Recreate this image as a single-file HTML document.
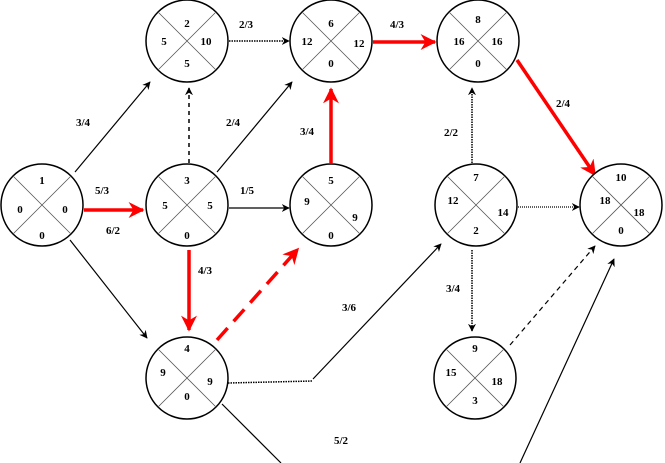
<!DOCTYPE html>
<html><head><meta charset="utf-8"><style>
html,body{margin:0;padding:0;background:#fff;width:665px;height:463px;overflow:hidden}
svg text{font-family:"Liberation Serif",serif;font-size:11px;font-weight:bold;fill:#000;text-anchor:middle}
</style></head><body>
<svg width="665" height="463" viewBox="0 0 665 463" xmlns="http://www.w3.org/2000/svg">
<defs>
<marker id="a" viewBox="0 0 10 10" refX="9" refY="5" markerWidth="8" markerHeight="8" orient="auto" markerUnits="userSpaceOnUse"><path d="M0,0 L10,5 L0,10 L3,5 z" fill="#000"/></marker>
<marker id="r" viewBox="0 0 10 10" refX="9" refY="5" markerWidth="16" markerHeight="16" orient="auto" markerUnits="userSpaceOnUse"><path d="M0,0 L10,5 L0,10 L3,5 z" fill="#f00"/></marker>
</defs>
<g stroke="#000" stroke-width="1.2" fill="none">
<line x1="75" y1="172" x2="150" y2="82" marker-end="url(#a)"/>
<line x1="70" y1="240" x2="147" y2="338" marker-end="url(#a)"/>
<line x1="189" y1="163" x2="189" y2="88" stroke-dasharray="4,4" stroke-width="1.5" marker-end="url(#a)"/>
<line x1="229" y1="41" x2="289" y2="41" stroke-dasharray="1.5,1" stroke-width="1.5" marker-end="url(#a)"/>
<line x1="217" y1="172" x2="292" y2="82" marker-end="url(#a)"/>
<line x1="229" y1="208" x2="289" y2="208" marker-end="url(#a)"/>
<line x1="472" y1="163" x2="472" y2="88" stroke-dasharray="1.5,1" stroke-width="1.5" marker-end="url(#a)"/>
<line x1="518" y1="207" x2="579" y2="207" stroke-dasharray="1,1" marker-end="url(#a)"/>
<line x1="472" y1="250" x2="472" y2="331" stroke-dasharray="1.5,1" stroke-width="1.5" marker-end="url(#a)"/>
<polyline points="228,383 313,381" stroke-dasharray="1.5,1" stroke-width="1.5"/>
<line x1="313" y1="379" x2="441" y2="244" marker-end="url(#a)"/>
<line x1="222" y1="404" x2="281" y2="463"/>
<line x1="520" y1="463" x2="614" y2="259" marker-end="url(#a)"/>
<line x1="510" y1="345" x2="595" y2="246" stroke-dasharray="5,4" marker-end="url(#a)"/>
</g>
<g stroke="#f00" stroke-width="3.5" fill="none">
<line x1="84" y1="210" x2="143" y2="210" marker-end="url(#r)"/>
<line x1="331" y1="163" x2="331" y2="89" marker-end="url(#r)"/>
<line x1="373" y1="42" x2="435" y2="42" marker-end="url(#r)"/>
<line x1="517" y1="60" x2="595" y2="175" marker-end="url(#r)"/>
<line x1="189" y1="250" x2="189" y2="330" marker-end="url(#r)"/>
<line x1="217" y1="340" x2="298" y2="249" stroke-dasharray="16,9" marker-end="url(#r)"/>
</g>
<g font-size="11">
<text x="83" y="126">3/4</text><text x="102" y="194">5/3</text><text x="113" y="234">6/2</text>
<text x="246" y="28">2/3</text><text x="233" y="126">2/4</text><text x="247" y="194">1/5</text>
<text x="307" y="135">3/4</text><text x="397" y="28">4/3</text><text x="563" y="107">2/4</text>
<text x="451" y="136">2/2</text><text x="205" y="274">4/3</text><text x="349" y="311">3/6</text>
<text x="453" y="292">3/4</text><text x="341" y="444">5/2</text>
</g>
<g id="nodes">
<!-- node helper: circle + X + 4 texts -->
<g transform="translate(42,205)"><circle r="41" fill="#fff" stroke="#000" stroke-width="1.5"/><path d="M-29,-29L29,29M29,-29L-29,29" stroke="#555" stroke-width="0.8"/><text y="-21">1</text><text x="-22" y="8">0</text><text x="23" y="8">0</text><text y="34">0</text></g>
<g transform="translate(187,41)"><circle r="41" fill="#fff" stroke="#000" stroke-width="1.5"/><path d="M-29,-29L29,29M29,-29L-29,29" stroke="#555" stroke-width="0.8"/><text y="-14">2</text><text x="-23" y="4">5</text><text x="19" y="4">10</text><text y="26">5</text></g>
<g transform="translate(187,205)"><circle r="41" fill="#fff" stroke="#000" stroke-width="1.5"/><path d="M-29,-29L29,29M29,-29L-29,29" stroke="#555" stroke-width="0.8"/><text y="-21">3</text><text x="-22" y="4">5</text><text x="23" y="4">5</text><text y="34">0</text></g>
<g transform="translate(331,41)"><circle r="41" fill="#fff" stroke="#000" stroke-width="1.5"/><path d="M-29,-29L29,29M29,-29L-29,29" stroke="#555" stroke-width="0.8"/><text y="-14">6</text><text x="-24" y="4">12</text><text x="28" y="6">12</text><text y="26">0</text></g>
<g transform="translate(331,205)"><circle r="41" fill="#fff" stroke="#000" stroke-width="1.5"/><path d="M-29,-29L29,29M29,-29L-29,29" stroke="#555" stroke-width="0.8"/><text y="-21">5</text><text x="-24" y="0">9</text><text x="24" y="16">9</text><text y="34">0</text></g>
<g transform="translate(478,41)"><circle r="41" fill="#fff" stroke="#000" stroke-width="1.5"/><path d="M-29,-29L29,29M29,-29L-29,29" stroke="#555" stroke-width="0.8"/><text y="-18">8</text><text x="-19" y="4">16</text><text x="19" y="4">16</text><text y="26">0</text></g>
<g transform="translate(476,205)"><circle r="41" fill="#fff" stroke="#000" stroke-width="1.5"/><path d="M-29,-29L29,29M29,-29L-29,29" stroke="#555" stroke-width="0.8"/><text y="-24">7</text><text x="-23" y="-1">12</text><text x="27" y="11">14</text><text y="29">2</text></g>
<g transform="translate(621,205)"><circle r="41" fill="#fff" stroke="#000" stroke-width="1.5"/><path d="M-29,-29L29,29M29,-29L-29,29" stroke="#555" stroke-width="0.8"/><text y="-24">10</text><text x="-16" y="-1">18</text><text x="18" y="11">18</text><text y="29">0</text></g>
<g transform="translate(187,378)"><circle r="41" fill="#fff" stroke="#000" stroke-width="1.5"/><path d="M-29,-29L29,29M29,-29L-29,29" stroke="#555" stroke-width="0.8"/><text y="-26">4</text><text x="-24" y="-2">9</text><text x="23" y="7">9</text><text y="22">0</text></g>
<g transform="translate(475,378)"><circle r="41" fill="#fff" stroke="#000" stroke-width="1.5"/><path d="M-29,-29L29,29M29,-29L-29,29" stroke="#555" stroke-width="0.8"/><text y="-26">9</text><text x="-24" y="-2">15</text><text x="22" y="7">18</text><text y="26">3</text></g>
</g>
</svg>
</body></html>
